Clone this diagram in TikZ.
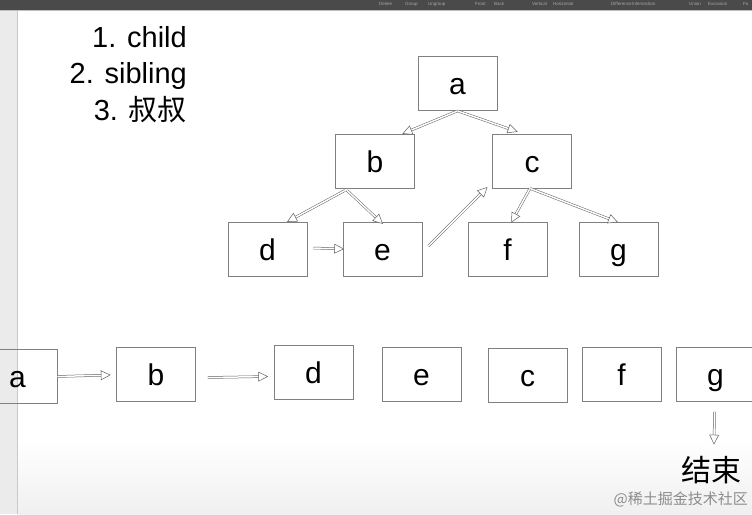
\documentclass[tikz,border=0pt]{standalone}
\usepackage{fontspec}
\setmainfont{Liberation Sans}
\newfontfamily\cjk{Noto Sans CJK SC}
\usetikzlibrary{decorations.markings}
\definecolor{boxline}{HTML}{808080}
\definecolor{arrowline}{HTML}{606060}
\definecolor{stripbg}{HTML}{EBEBEB}
\definecolor{stripline}{HTML}{C8C8C8}
\definecolor{topbar}{HTML}{4A4A4A}
\tikzset{
  box/.style={draw=boxline, line width=0.8pt, minimum width=79pt, minimum height=54pt, inner sep=0pt, text height=22pt, text depth=0pt, font=\fontsize{30}{30}\selectfont},
  link/.style={draw=arrowline, line width=0.5pt, double=white, double distance=1.5pt, shorten >=3pt,
    postaction={decorate},
    decoration={markings, mark=at position 1 with {\draw[arrowline, line width=0.5pt, fill=white, solid] (-9pt,4.5pt) -- (0pt,0pt) -- (-9pt,-4.5pt) -- cycle;}}},
  listtext/.style={anchor=base east, inner sep=0pt, font=\fontsize{29}{29}\selectfont},
  toolbtn/.style={anchor=west, inner sep=0pt, text=gray!70, font=\fontsize{4.5}{5}\selectfont},
}
\begin{document}
\begin{tikzpicture}[x=1pt,y=-1pt]
\useasboundingbox (0,0) rectangle (752,514);
% background
\fill[white] (0,0) rectangle (752,514);
\shade[top color=white, bottom color=black!6] (17.5,440) rectangle (752,514);
\fill[stripbg] (0,0) rectangle (17.5,514);
\draw[stripline, line width=0.8pt] (17.5,10) -- (17.5,514);
\fill[topbar] (0,0) rectangle (752,10);
\draw[black!25, line width=0.6pt] (0,10.3) -- (752,10.3);
% toolbar labels
\node[toolbtn] (tb1) at (379,4) {Delete};
\node[toolbtn] (tb2) at (405,4) {Group};
\node[toolbtn] (tb3) at (428,4) {Ungroup};
\node[toolbtn] (tb4) at (475,4) {Front};
\node[toolbtn] (tb5) at (494,4) {Back};
\node[toolbtn] (tb6) at (532,4) {Vertical};
\node[toolbtn] (tb7) at (553,4) {Horizontal};
\node[toolbtn] (tb8) at (611,4) {Difference};
\node[toolbtn] (tb9) at (632,4) {Intersection};
\node[toolbtn] (tb10) at (689,4) {Union};
\node[toolbtn] (tb11) at (708,4) {Exclusion};
\node[toolbtn] (tb12) at (743,4) {Fo};
% list
\node[listtext] (l1) at (187,47) {1. child};
\node[listtext] (l2) at (187,83) {2. sibling};
\node[listtext] (l3) at (187,120) {3. {\cjk 叔叔}};
% tree
\node[box] (a) at (457.5,83.5) {a};
\node[box] (b) at (375,161) {b};
\node[box] (c) at (532,161) {c};
\node[box] (d) at (267.5,249) {d};
\node[box] (e) at (382.5,249) {e};
\node[box] (f) at (507.5,249.5) {f};
\node[box] (g) at (618.5,249.5) {g};
\draw[link] (a.south) -- ([xshift=-12pt]b.north east);
\draw[link] (a.south) -- ([xshift=-15pt,yshift=2pt]c.north);
\draw[link] ([xshift=-30pt,yshift=-2pt]b.south) -- ([xshift=20pt]d.north);
\draw[link] ([xshift=-28pt,yshift=-2pt]b.south) -- ([yshift=-2pt]e.north);
\draw[link] ([xshift=6pt,yshift=1pt]d.east) -- ([xshift=1pt]e.west);
\draw[link] ([xshift=6pt,yshift=3pt]e.east) -- ([xshift=-5pt,yshift=1pt]c.south west);
\draw[link] ([xshift=-2pt]c.south) -- ([xshift=4pt]f.north);
\draw[link] ([xshift=-2pt]c.south) -- ([xshift=-1pt]g.north);
% traversal row
\node[box] (ra) at (17.5,376.5) {a};
\node[box] (rb) at (156,374) {b};
\node[box] (rd) at (313.5,372) {d};
\node[box] (re) at (421.5,374.5) {e};
\node[box] (rc) at (527.5,375) {c};
\node[box] (rf) at (621.5,374.5) {f};
\node[box] (rg) at (715.5,374.5) {g};
\node[inner sep=0pt, font=\cjk\fontsize{30}{30}\selectfont] (fin) at (711,470) {结束};
\draw[link] (ra.east) -- ([xshift=-6pt,yshift=-1pt]rb.west);
\draw[link] ([xshift=12pt,yshift=-3.5pt]rb.east) -- ([xshift=-6pt,yshift=-4.5pt]rd.west);
\draw[link] ([xshift=-1pt,yshift=-10pt]rg.south) -- ([xshift=3pt,yshift=12pt]fin.north);
% watermark
\node[anchor=east, inner sep=0pt, text=black!45, font=\cjk\fontsize{15}{15}\selectfont] (wm) at (748,499) {@稀土掘金技术社区};
\end{tikzpicture}
\end{document}
